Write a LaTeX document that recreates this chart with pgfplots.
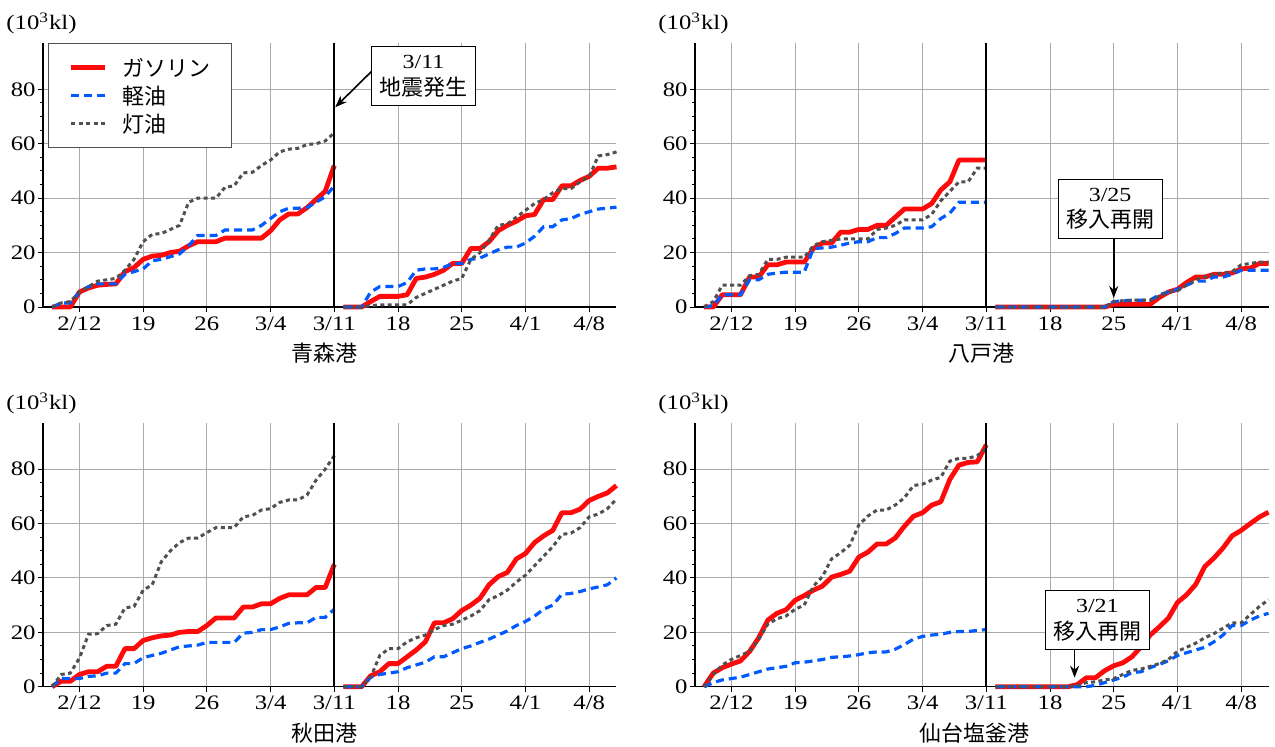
\documentclass[border=0pt]{standalone}
\usepackage{fontspec}
\setmainfont{Liberation Serif}[FakeStretch=1.2]
\newfontfamily\jp{Noto Sans CJK JP}
\usepackage{pgfplots}
\pgfplotsset{compat=1.18}
\usepackage{pgfplotstable}
\usetikzlibrary{arrows.meta}

\definecolor{gasred}{RGB}{255,10,10}
\definecolor{dslblue}{RGB}{0,90,255}
\definecolor{kergray}{RGB}{80,80,80}
\definecolor{gridgray}{RGB}{170,170,170}

% day index: 2/12 = 12, ..., 3/11 = 40, 4/8 = 68
\pgfplotstableread{
day gas dsl ker
9 0 0 0
10 0 1.5 1.5
11 0 1.5 2
12 5.5 5.5 5.5
13 7 7.5 7.5
14 8 8.5 9.5
15 8.3 8.5 10
16 8.5 8.5 10.5
17 13 12 13.5
18 14.5 13 17.5
19 17.5 14 24
20 18.7 17 26.7
21 19 17.5 27
22 20 18.5 28.5
23 20.5 19.5 30
24 22.5 22.5 38.5
25 24 26.3 40
26 24 26.3 40
27 24 26.3 40
28 25.3 28.3 44
29 25.3 28.3 44.5
30 25.3 28.3 49.3
31 25.3 28.3 49.5
32 25.3 30 52
33 28 32.5 54
34 32 35 57
35 34.2 36.3 58
36 34.2 36.3 58.3
37 36.5 36.5 59.7
38 39.5 38.5 60
39 42.5 40.5 61
40 52 44.5 64
}\aomoriPre
\pgfplotstableread{
day gas dsl ker
41 0 0 0
42 0 0 0
43 0 0 0
44 2 5.5 0.5
45 3.9 7.5 0.8
46 3.9 7.5 0.8
47 3.9 7.5 0.8
48 4.5 9 0.8
49 10.5 13.5 3.5
50 11 14 5
51 12 14 6.5
52 13.5 14.5 8
53 16 16 9.5
54 16 16 10.5
55 21.5 17.5 17.5
56 21.5 18 20
57 24 19.5 24.5
58 28 21 30
59 30 22 30.5
60 31.5 22 33
61 33.5 23.5 35.5
62 34 26 38
63 39.5 29.5 39.5
64 39.5 29.5 42
65 44.5 32 43.5
66 44.5 32.5 43.5
67 46.5 34 46
68 48 35 48
69 51 36 55.5
70 51 36.3 56
71 51.5 36.7 57
}\aomoriPost
\pgfplotstableread{
day gas dsl ker
9 0 0 0
10 0 0.5 2
11 4.5 4.5 8
12 4.5 4.5 8
13 4.5 4.5 8
14 11 10 11.5
15 11 10 12
16 15.5 12 17.5
17 15.5 12.5 17.5
18 16.5 12.8 18.3
19 16.5 12.8 18.3
20 16.5 12.8 18.3
21 21.5 21.5 22.5
22 23.5 21.7 24
23 23.5 22 24.5
24 27.5 22.7 25
25 27.5 23.5 25
26 28.5 24 25
27 28.5 24 25
28 30 25.5 28.5
29 30 25.5 29
30 33 27 30
31 36 29 32
32 36 29 32
33 36 29 32
34 38 29.5 34
35 43 32.5 39
36 46 34.5 42.5
37 54 38.5 46
38 54 38.5 46
39 54 38.5 51
40 54 38.5 51
}\hachiPre
\pgfplotstableread{
day gas dsl ker
41 0 0 0
53 0 0 0
54 1 2 2
55 1 2.2 2.3
56 1 2.5 2.5
57 1 2.5 2.5
58 1 2.5 2.5
59 3.5 4.5 4
60 5.5 5.5 5.5
61 6.5 6.5 6
62 9 8 8
63 11 9.5 10
64 11 9.5 11
65 12 11 12
66 12 11 12.5
67 12.5 12 13
68 14 13.5 15.5
69 14.3 13.5 16
70 16 13.5 16.5
71 16 13.5 16.5
}\hachiPost
\pgfplotstableread{
day gas dsl ker
9 0 0 0
10 2 3 4.5
11 2 3 5
12 4.5 3 10.5
13 5.5 3.8 19.3
14 5.5 4 19.5
15 7.5 5 22.5
16 7.5 5 23
17 14 8.5 29
18 14 8.5 29.5
19 17 10.7 35.5
20 18 11.5 37.5
21 18.7 12.3 46
22 19 13.5 50
23 20 14.7 53
24 20.3 15 54.7
25 20.3 15.3 54.7
26 22.5 16.3 56.7
27 25.3 16.3 58.5
28 25.3 16.3 58.5
29 25.3 16.3 58.5
30 29.3 19.7 62.5
31 29.3 20 63
32 30.5 21 65
33 30.5 21 65.5
34 32.5 22 67.8
35 33.8 23.3 68.7
36 33.8 23.5 68.7
37 33.8 23.5 70.5
38 36.5 25.5 76
39 36.5 25.5 80
40 45 28.5 85
}\akitaPre
\pgfplotstableread{
day gas dsl ker
41 0 0 0
42 0 0 0
43 0 0 0
44 4 3.5 3.5
45 5.5 4.5 11.5
46 8.5 5 14
47 8.5 5.5 14
48 11 7 16.5
49 13.5 8 18
50 16.5 9 19
51 23.5 11 21
52 23.5 11 22.5
53 25 12.5 23
54 28 14 24.5
55 30 15 26
56 32.5 16.3 28
57 37.5 17.5 32
58 40.5 19 33.5
59 42 20.5 35.5
60 47 22.5 38.5
61 49 24 41
62 53 26 44.5
63 55.5 28.5 48
64 57.5 30 51.5
65 64 34 56
66 64 34.3 56.5
67 65.3 35 58.5
68 68.5 36 62.5
69 70 36.7 63.5
70 71.3 37.5 65.5
71 74 40 69
}\akitaPost
\pgfplotstableread{
day gas dsl ker
9 0 0 0
10 5 1.5 4.5
11 7 2.5 8
12 8.3 3 10
13 9.5 3.5 11.5
14 13 4.5 13
15 18 5.5 17.5
16 24.5 6.5 23
17 27 7 25
18 28.3 7.5 26
19 31.8 8.8 28.5
20 33.5 9 30
21 35.5 9.5 37
22 37 10 40.5
23 40.3 10.8 47
24 41.3 11 49.3
25 42.5 11.3 52
26 47.7 11.8 59.5
27 49.5 12.5 62.8
28 52.5 12.8 65
29 52.5 12.8 65
30 54.7 13.8 66.8
31 59 15.5 69.5
32 62.7 17.5 74
33 64 18.5 74.5
34 66.8 19 76
35 68 19.3 77
36 76.3 20 83
37 81.5 20.3 84
38 82.5 20.3 84
39 82.7 20.7 85
40 89 21 87.5
}\sendaiPre
\pgfplotstableread{
day gas dsl ker
41 0 0 0
49 0 0 0
50 0.8 0 0.5
51 3.3 0 1.5
52 3.3 0.5 1.8
53 5.9 1.5 2.5
54 7.7 2.5 3
55 8.8 3.5 4.5
56 11 5.2 6
57 14.7 5.5 6.5
58 19 7 7.5
59 22 8.2 8.5
60 25.2 9.5 10
61 31 11.5 13
62 33.8 12.5 14.5
63 37.6 13.5 16
64 44.2 14.5 18
65 47.3 16.5 19.5
66 51 19 21.5
67 55.5 22.5 23.5
68 57.5 22.5 23.5
69 60 24.5 26.5
70 62.4 26 29.5
71 64.2 27 32
}\sendaiPost

\pgfplotsset{
  panel/.style={
    scale only axis, width=286.75pt, height=132pt,
    xmin=8, xmax=71, ymin=0, ymax=97, clip=false,
    axis x line*=bottom, axis y line*=left,
    axis line style={-, black, line width=0.6pt},
    xtick={12,19,26,33,40,47,54,61,68},
    xticklabels={2/12,19,26,3/4,3/11,18,25,4/1,4/8},
    ytick={0,20,40,60,80}, minor y tick num=3,
    xmajorgrids, ymajorgrids, grid style={gridgray, line width=0.5pt},
    tick align=outside, major tick length=2.5pt, minor tick length=1.5pt,
    every tick/.style={black, line width=0.5pt},
    /pgf/number format/assume math mode=true,
    ticklabel style={font=\fontsize{10.3}{12}\selectfont},
    yticklabel style={inner sep=0pt, anchor=east, xshift=-1pt},
    xticklabel style={inner sep=0pt, anchor=base, yshift=-9pt},
  },
  gas/.style={gasred, line width=2.4pt, line join=round},
  dsl/.style={dslblue, line width=1.6pt, dash pattern=on 4pt off 2.5pt},
  ker/.style={kergray, line width=1.5pt, dash pattern=on 2pt off 1.7pt},
}
\newcommand{\unitlabel}{\node[anchor=base, xshift=-0.75pt, yshift=6.75pt, font=\fontsize{10.3}{12}\selectfont] at (rel axis cs:0,1) {(10\textsuperscript{3}kl)};}
\newcommand{\quakeline}{\draw[black, line width=0.85pt] (axis cs:40,0) -- (axis cs:40,97);}
\tikzset{annot/.style={draw=black, line width=0.5pt, fill=white, minimum width=52pt, minimum height=29.7pt, align=center, inner sep=0pt, font=\fontsize{10}{13.3}\selectfont},
  arr/.style={line width=0.8pt, -{Stealth[length=6pt, width=4.5pt]}}}

\begin{document}
\begin{tikzpicture}
\useasboundingbox (0,0) rectangle (637.5pt,373pt);

% ---------- 青森港 ----------
\begin{axis}[panel, at={(21.5pt,219.5pt)}, anchor=south west,
  legend style={at={(0.008,1)}, anchor=north west, draw=kergray, line width=0.5pt, fill=white,
    inner xsep=10.5pt, inner ysep=5.5pt, row sep=1pt, column sep=7.5pt,
    nodes={inner sep=0pt, text height=11pt, text depth=2pt},
    font=\jp\fontsize{11}{13}\selectfont},
  legend cell align=left,
  legend image code/.code={\draw[#1] (0pt,0pt) -- (17pt,0pt);}]
\addplot[gas] table[x=day,y=gas]{\aomoriPre}; \addlegendentry{ガソリン}
\addplot[dsl] table[x=day,y=dsl]{\aomoriPre}; \addlegendentry{軽油}
\addplot[ker] table[x=day,y=ker]{\aomoriPre}; \addlegendentry{灯油}
\addplot[gas, forget plot] table[x=day,y=gas]{\aomoriPost};
\addplot[dsl, forget plot] table[x=day,y=dsl]{\aomoriPost};
\addplot[ker, forget plot] table[x=day,y=ker]{\aomoriPost};
\quakeline
\unitlabel
\node[font=\jp\fontsize{11}{13}\selectfont, yshift=-23.25pt] at (rel axis cs:0.49,0) {青森港};
\draw[arr] (axis cs:44.1,86.6) -- (axis cs:40.1,73.4);
\node[annot] at (axis cs:49.8,84.8) {3/11\\{\jp\fontsize{11}{13.3}\selectfont 地震発生}};
\end{axis}

% ---------- 八戸港 ----------
\begin{axis}[panel, at={(347.5pt,219.5pt)}, anchor=south west]
\addplot[gas] table[x=day,y=gas]{\hachiPre};
\addplot[dsl] table[x=day,y=dsl]{\hachiPre};
\addplot[ker] table[x=day,y=ker]{\hachiPre};
\addplot[gas] table[x=day,y=gas]{\hachiPost};
\addplot[dsl] table[x=day,y=dsl]{\hachiPost};
\addplot[ker] table[x=day,y=ker]{\hachiPost};
\quakeline
\unitlabel
\node[font=\jp\fontsize{11}{13}\selectfont, yshift=-23.25pt] at (rel axis cs:0.5,0) {八戸港};
\draw[arr] (axis cs:54,25) -- (axis cs:54,3.3);
\node[annot] at (axis cs:53.6,36.1) {3/25\\{\jp\fontsize{11}{13.3}\selectfont 移入再開}};
\end{axis}

% ---------- 秋田港 ----------
\begin{axis}[panel, at={(21.5pt,29.65pt)}, anchor=south west, height=131.85pt]
\addplot[gas] table[x=day,y=gas]{\akitaPre};
\addplot[dsl] table[x=day,y=dsl]{\akitaPre};
\addplot[ker] table[x=day,y=ker]{\akitaPre};
\addplot[gas] table[x=day,y=gas]{\akitaPost};
\addplot[dsl] table[x=day,y=dsl]{\akitaPost};
\addplot[ker] table[x=day,y=ker]{\akitaPost};
\quakeline
\unitlabel
\node[font=\jp\fontsize{11}{13}\selectfont, yshift=-23.25pt] at (rel axis cs:0.49,0) {秋田港};
\end{axis}

% ---------- 仙台塩釜港 ----------
\begin{axis}[panel, at={(347.5pt,29.65pt)}, anchor=south west, height=131.85pt]
\addplot[gas] table[x=day,y=gas]{\sendaiPre};
\addplot[dsl] table[x=day,y=dsl]{\sendaiPre};
\addplot[ker] table[x=day,y=ker]{\sendaiPre};
\addplot[gas] table[x=day,y=gas]{\sendaiPost};
\addplot[dsl] table[x=day,y=dsl]{\sendaiPost};
\addplot[ker] table[x=day,y=ker]{\sendaiPost};
\quakeline
\unitlabel
\node[font=\jp\fontsize{11}{13}\selectfont, yshift=-23.25pt] at (rel axis cs:0.488,0) {仙台塩釜港};
\draw[arr] (axis cs:49.7,13.9) -- (axis cs:49.7,3.3);
\node[annot] at (axis cs:52.2,24.5) {3/21\\{\jp\fontsize{11}{13.3}\selectfont 移入再開}};
\end{axis}
\end{tikzpicture}
\end{document}
